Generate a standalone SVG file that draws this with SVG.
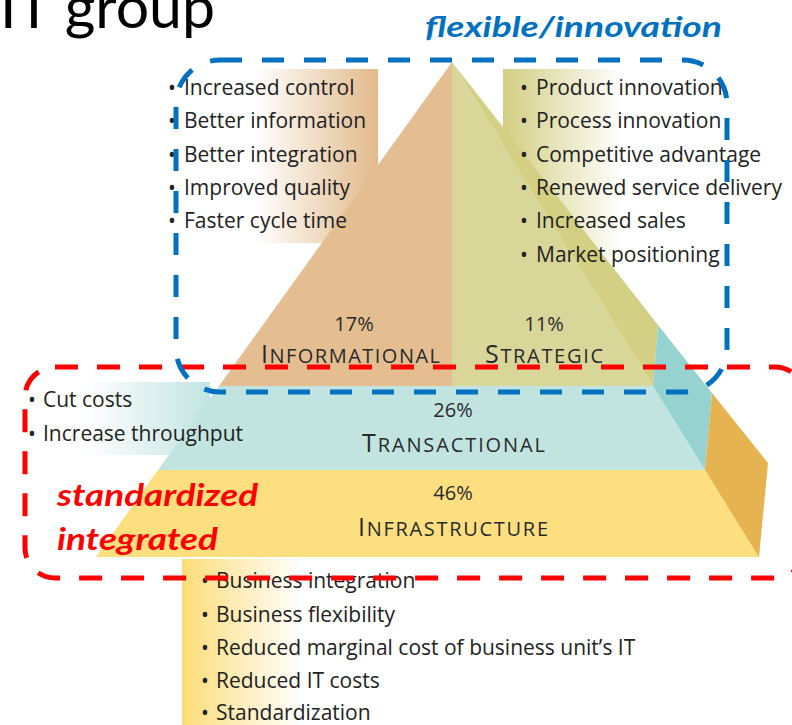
<svg xmlns="http://www.w3.org/2000/svg" width="792" height="725" viewBox="0 0 792 725">
<defs>
<linearGradient id="gTan" x1="0" y1="0" x2="1" y2="0"><stop offset="0" stop-color="#FFFFFF"/><stop offset="1" stop-color="#E2B98A"/></linearGradient>
<linearGradient id="gOlive" x1="0" y1="0" x2="1" y2="0"><stop offset="0" stop-color="#D2CE82"/><stop offset="1" stop-color="#FFFFFF"/></linearGradient>
<linearGradient id="gTeal" x1="0" y1="0" x2="1" y2="0"><stop offset="0" stop-color="#FFFFFF"/><stop offset="1" stop-color="#C1E4E1"/></linearGradient>
<linearGradient id="gGold" x1="0" y1="0" x2="1" y2="0"><stop offset="0" stop-color="#FDDC78"/><stop offset="1" stop-color="#FFFFFF"/></linearGradient>
<style>
.b{font-family:"Open Sans","Noto Sans","DejaVu Sans",sans-serif;font-size:21px;fill:#222222}
.lab{font-family:"Open Sans","Noto Sans","DejaVu Sans",sans-serif;fill:#2a2a2a}
.pct{font-size:20px;text-anchor:middle}
.big{font-size:25px}
.sm{font-size:20px}
.note{font-family:Lato,"Open Sans",sans-serif;font-weight:bold;font-style:italic}
.frame{fill:none;stroke-width:5}
</style>
</defs>
<rect x="0" y="0" width="792" height="725" fill="#FFFFFF"/>
<text x="0" y="28" font-family="Lato,'Open Sans',sans-serif" font-size="59" fill="#000000">IT group</text>

<g id="list-boxes">
<rect x="255" y="69" width="123" height="174" fill="url(#gTan)"/>
<rect x="503" y="69" width="120" height="206" fill="url(#gOlive)"/>
<rect x="85" y="382" width="125" height="73" fill="url(#gTeal)"/>
<rect x="182" y="559" width="120" height="166" fill="url(#gGold)"/>
</g>

<g id="informational">
<polygon points="452,62 219,386 452,386" fill="#E4BE91"/>
<text class="lab pct" x="354" y="331">17%</text>
<text class="lab" x="261" y="363" textLength="179" lengthAdjust="spacing"><tspan class="big">I</tspan><tspan class="sm">NFORMATIONAL</tspan></text>
</g>
<g id="strategic">
<polygon points="452,62 452,386 653,386" fill="#D9D69A"/>
<polygon points="452,62 658,325 653,386" fill="#D3CF83"/>
<text class="lab pct" x="544" y="331">11%</text>
<text class="lab" x="485" y="363" textLength="118" lengthAdjust="spacing"><tspan class="big">S</tspan><tspan class="sm">TRATEGIC</tspan></text>
</g>
<g id="transactional">
<polygon points="219,386 653,386 705,470 158,470" fill="#C1E4E1"/>
<polygon points="658,325 712,393 705,470 653,386" fill="#96D2CF"/>
<text class="lab pct" x="453" y="417">26%</text>
<text class="lab" x="362" y="452" textLength="183" lengthAdjust="spacing"><tspan class="big">T</tspan><tspan class="sm">RANSACTIONAL</tspan></text>
</g>
<g id="infrastructure">
<polygon points="158,470 705,470 760,557 96,557" fill="#FDDF80"/>
<polygon points="712,393 768,463 759,557 705,470" fill="#E5B350"/>
<text class="lab pct" x="453" y="500">46%</text>
<text class="lab" x="358" y="536" textLength="190" lengthAdjust="spacing"><tspan class="big">I</tspan><tspan class="sm">NFRASTRUCTURE</tspan></text>
</g>

<g id="informational-benefits">
<text class="b" x="168" y="95">•<tspan x="184">Increased control</tspan></text>
<text class="b" x="168" y="128">•<tspan x="184">Better information</tspan></text>
<text class="b" x="168" y="162">•<tspan x="184">Better integration</tspan></text>
<text class="b" x="168" y="195">•<tspan x="184">Improved quality</tspan></text>
<text class="b" x="168" y="228">•<tspan x="184">Faster cycle time</tspan></text>
</g>
<g id="strategic-benefits">
<text class="b" x="520" y="95">•<tspan x="536">Product innovation</tspan></text>
<text class="b" x="520" y="128">•<tspan x="536">Process innovation</tspan></text>
<text class="b" x="520" y="162">•<tspan x="536">Competitive advantage</tspan></text>
<text class="b" x="520" y="195">•<tspan x="536">Renewed service delivery</tspan></text>
<text class="b" x="520" y="228">•<tspan x="536">Increased sales</tspan></text>
<text class="b" x="520" y="262">•<tspan x="536">Market positioning</tspan></text>
</g>
<g id="transactional-benefits">
<text class="b" x="28" y="407">•<tspan x="43">Cut costs</tspan></text>
<text class="b" x="28" y="441">•<tspan x="43">Increase throughput</tspan></text>
</g>
<g id="infrastructure-benefits">
<text class="b" x="201" y="588">•<tspan x="216">Business integration</tspan></text>
<text class="b" x="201" y="622">•<tspan x="216">Business flexibility</tspan></text>
<text class="b" x="201" y="655">•<tspan x="216">Reduced marginal cost of business unit’s IT</tspan></text>
<text class="b" x="201" y="688">•<tspan x="216">Reduced IT costs</tspan></text>
<text class="b" x="201" y="720">•<tspan x="216">Standardization</tspan></text>
</g>

<g id="connectors">
<rect id="standardized-frame" class="frame" x="25" y="367" width="780" height="211" rx="30" ry="30" stroke="#FF0000" stroke-dasharray="23 19"/>
<rect id="flexible-frame" class="frame" x="176" y="60" width="551" height="332" rx="44" ry="44" stroke="#0070C0" stroke-dasharray="22 20"/>
</g>

<g id="flexible-label">
<text class="note" x="425" y="37" font-size="29" fill="#0070C0" textLength="297" lengthAdjust="spacingAndGlyphs">flexible/innovation</text>
</g>
<g id="standardized-label">
<text class="note" x="57" y="506" font-size="31" fill="#FF0000" textLength="201" lengthAdjust="spacingAndGlyphs">standardized</text>
<text class="note" x="57" y="550" font-size="31" fill="#FF0000" textLength="161" lengthAdjust="spacingAndGlyphs">integrated</text>
</g>
</svg>
